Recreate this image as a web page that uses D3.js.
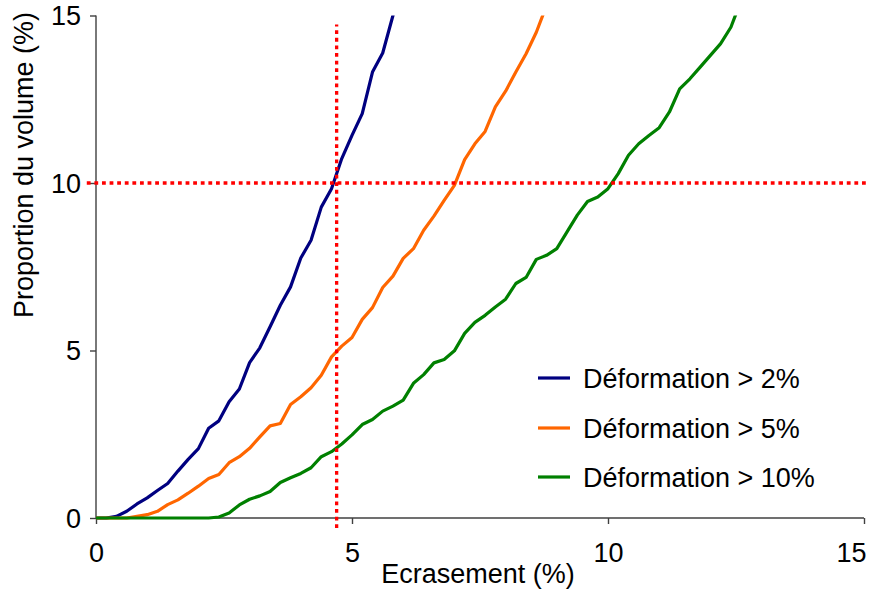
<!DOCTYPE html>
<html>
<head>
<meta charset="utf-8">
<script src="https://cdn.jsdelivr.net/npm/d3@7"></script>
<style>
  html, body { margin: 0; padding: 0; background: #fff; }
  svg { display: block; font-family: "Liberation Sans", Arial, sans-serif; }
</style>
</head>
<body>
<svg id="chart" width="869" height="599"></svg>
<script>
// ---- data ----
const xValues = [0, 0.2, 0.4, 0.6, 0.8, 1.0, 1.2, 1.4, 1.6, 1.8, 2.0, 2.2, 2.4, 2.6, 2.8, 3.0,
  3.2, 3.4, 3.6, 3.8, 4.0, 4.2, 4.4, 4.6, 4.8, 5.0, 5.2, 5.4, 5.6, 5.8, 6.0, 6.2, 6.4, 6.6, 6.8,
  7.0, 7.2, 7.4, 7.6, 7.8, 8.0, 8.2, 8.4, 8.6, 8.8, 9.0, 9.2, 9.4, 9.6, 9.8, 10.0, 10.2, 10.4,
  10.6, 10.8, 11.0, 11.2, 11.4, 11.6, 11.8, 12.0, 12.2, 12.4, 12.6];

const seriesNames = ["Déformation > 2%", "Déformation > 5%", "Déformation > 10%"];

const def2 = [0, 0, 0.05, 0.2, 0.42, 0.6, 0.82, 1.03, 1.4, 1.75, 2.07, 2.68, 2.9, 3.47, 3.85, 4.64,
  5.08, 5.71, 6.35, 6.9, 7.76, 8.29, 9.28, 9.83, 10.73, 11.42, 12.07, 13.31, 13.88, 15.0, 16.2];

const def5 = [0, 0, 0, 0, 0.05, 0.1, 0.2, 0.4, 0.54, 0.74, 0.95, 1.18, 1.3, 1.65, 1.83, 2.08,
  2.42, 2.75, 2.82, 3.39, 3.62, 3.89, 4.26, 4.81, 5.13, 5.39, 5.93, 6.28, 6.88, 7.22, 7.75, 8.04,
  8.59, 9.01, 9.48, 9.93, 10.7, 11.17, 11.54, 12.27, 12.74, 13.31, 13.86, 14.5, 15.3];

const def10 = [0, 0, 0, 0, 0, 0, 0, 0, 0, 0, 0, 0, 0.03, 0.15, 0.39, 0.56,
  0.66, 0.79, 1.06, 1.2, 1.33, 1.5, 1.83, 1.98, 2.21, 2.48, 2.79, 2.94, 3.19, 3.34, 3.52, 4.02,
  4.28, 4.63, 4.73, 4.99, 5.51, 5.84, 6.05, 6.3, 6.53, 7.0, 7.18, 7.72, 7.84, 8.04, 8.54, 9.04,
  9.45, 9.58, 9.83, 10.28, 10.83, 11.17, 11.42, 11.65, 12.12, 12.81, 13.11, 13.46, 13.81, 14.16,
  14.65, 15.45];

const seriesColors = ["#000080", "#FF6600", "#008000"];

const xTicks = [0, 5, 10, 15];
const yTicks = [0, 5, 10, 15];

// reference (dotted) lines: vertical at x = 4.7, horizontal at y = 10
const refVertical = [[4.7, -0.3], [4.7, 14.73]];
const refHorizontal = [[-0.18, 10], [15.06, 10]];

const xTitle = "Ecrasement (%)";
const yTitle = "Proportion du volume (%)";

// ---- layout ----
const svg = d3.select("#chart");
const plotLeft = 96, plotRight = 864, plotTop = 15.5, plotBottom = 518;
const x = d3.scaleLinear().domain([0, 15]).range([plotLeft, plotRight]);
const y = d3.scaleLinear().domain([0, 15]).range([plotBottom, plotTop]);
const FONT = 27;

svg.append("defs").append("clipPath").attr("id", "plotClip")
  .append("rect").attr("x", plotLeft).attr("y", plotTop)
  .attr("width", plotRight - plotLeft + 2).attr("height", plotBottom - plotTop + 2);

// axes
const axisColor = "#404040";
const yAxis = svg.append("g").attr("transform", `translate(${plotLeft},0)`)
  .call(d3.axisLeft(y).tickValues(yTicks).tickSize(6).tickFormat(d3.format("d")));
const xAxis = svg.append("g").attr("transform", `translate(0,${plotBottom})`)
  .call(d3.axisBottom(x).tickValues(xTicks).tickSize(6).tickFormat(d3.format("d")));
[xAxis, yAxis].forEach(g => {
  g.select(".domain").attr("stroke", axisColor).attr("stroke-width", 1.4);
  g.selectAll(".tick line").attr("stroke", axisColor).attr("stroke-width", 1.4);
  g.selectAll(".tick text").attr("fill", "#000").style("font-size", FONT + "px")
    .style("font-family", "'Liberation Sans', Arial, sans-serif");
});
yAxis.select(".domain").attr("d", `M0,${plotTop}V${plotBottom}`);
xAxis.select(".domain").attr("d", `M${plotLeft},0H${plotRight}`);
yAxis.selectAll(".tick text").attr("x", -15).attr("dy", "0.35em");
xAxis.selectAll(".tick text").attr("y", 25).attr("dy", "0.71em");
xAxis.selectAll(".tick").filter(d => d === 15).select("text")
  .attr("text-anchor", "end").attr("x", 2);

// series lines
const line = d3.line().x(d => x(d[0])).y(d => y(d[1]));
const seriesData = [def2, def5, def10].map(vals => vals.map((v, i) => [xValues[i], v]));
const plot = svg.append("g").attr("clip-path", "url(#plotClip)");
seriesData.forEach((pts, i) => {
  plot.append("path").datum(pts)
    .attr("fill", "none")
    .attr("stroke", seriesColors[i])
    .attr("stroke-width", 3.2)
    .attr("stroke-linejoin", "round")
    .attr("d", line);
});

// dotted reference lines
[refVertical, refHorizontal].forEach(pts => {
  svg.append("path").datum(pts)
    .attr("fill", "none")
    .attr("stroke", "#FF0000")
    .attr("stroke-width", 3.3)
    .attr("stroke-dasharray", "3.8,3.8")
    .attr("d", line);
});

// axis titles
svg.append("text").attr("x", 478).attr("y", 583).attr("text-anchor", "middle")
  .style("font-size", FONT + "px").attr("fill", "#000").text(xTitle);
svg.append("text").attr("transform", "translate(33,165) rotate(-90)")
  .attr("text-anchor", "middle")
  .style("font-size", FONT + "px").attr("fill", "#000").text(yTitle);

// legend
const legendY = [378, 428, 477];
const legend = svg.append("g");
seriesNames.forEach((name, i) => {
  legend.append("line")
    .attr("x1", 538).attr("x2", 570)
    .attr("y1", legendY[i]).attr("y2", legendY[i])
    .attr("stroke", seriesColors[i]).attr("stroke-width", 3.2);
  legend.append("text")
    .attr("x", 583).attr("y", legendY[i] + 9.5)
    .style("font-size", FONT + "px").attr("fill", "#000").text(name);
});
</script>
</body>
</html>
